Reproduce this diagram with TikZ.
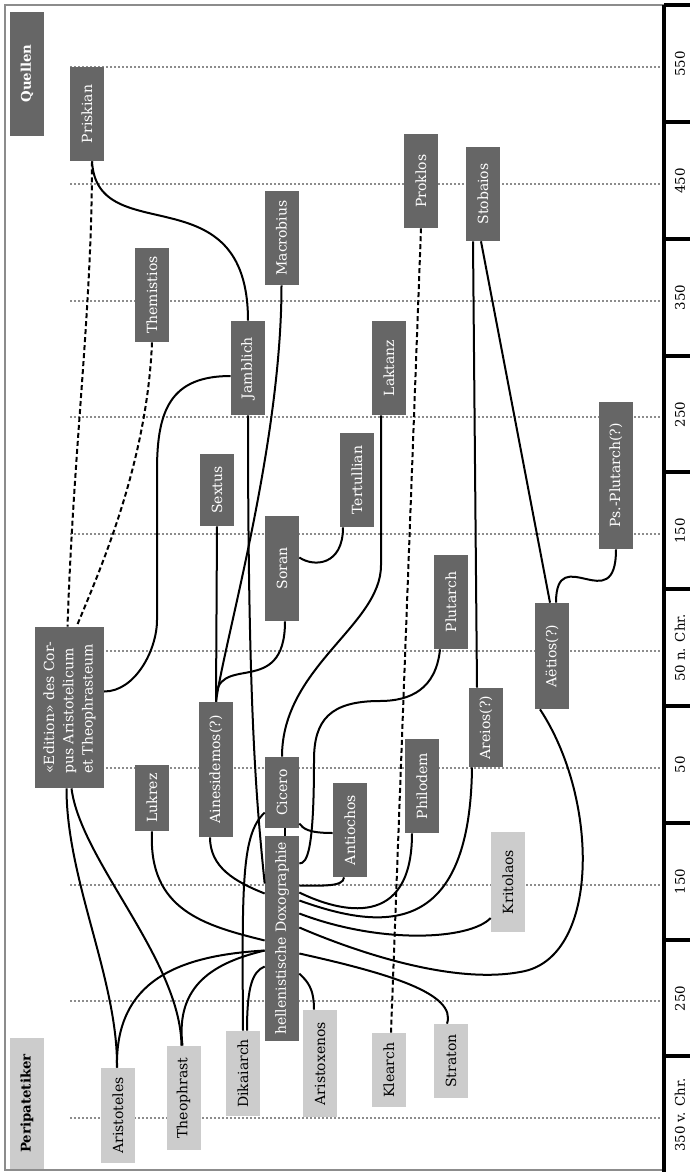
\documentclass[tikz,border=0pt]{standalone}
\usepackage{fontspec}
\setmainfont{DejaVu Serif}
\usepackage{tikz}
\usepackage{xcolor}
\usetikzlibrary{calc}

\definecolor{boxdark}{HTML}{666666}
\definecolor{boxlight}{HTML}{CCCCCC}
\definecolor{gridgray}{HTML}{8C8C8C}

\begin{document}
\begin{tikzpicture}[x=0.6pt,y=-0.6pt,
        quelle/.style={rotate=90,fill=boxdark,text=white,inner sep=0pt,minimum height=20.4pt,font=\fontsize{8.4}{11.5}\selectfont},
        peri/.style={quelle,fill=boxlight,text=black},
        bezug/.style={line width=1.2pt},
        unsicher/.style={line width=1.2pt,dash pattern=on 3pt off 1.8pt},
        raster/.style={gridgray,line width=1.2pt,dash pattern=on 1.4pt off 1pt},
        achse/.style={line width=2.4pt}]
            \useasboundingbox (0,0) rectangle (690,1172);

            \draw[gridgray,line width=1.2pt] (664,5) -- (5,5) -- (5,1170) -- (664,1170);
            \foreach \i in {0,...,9} \draw[raster] (70,{67+116.8*\i}) -- (663,{67+116.8*\i});

            \draw[achse] (664,5) -- (664,1172) (664,5) -- (690,5);
            \foreach \i in {0,...,8} \draw[achse] (664,{122+116.8*\i}) -- (690,{122+116.8*\i});
            \foreach \jahr [count=\i from 0] in {550,450,350,250,150,50 n. Chr.,50,150,250,350 v. Chr.}
                \node (jahr\i) at (680,{64+116.8*\i}) [rotate=90,font=\fontsize{8}{9.6}\selectfont] {\jahr};

            \node (quellen) at (27,73.5) [quelle,minimum width=74.4pt,font=\fontsize{8}{9.6}\selectfont\bfseries] {Quellen};
            \node (peripatetiker) at (27,1103.5) [peri,minimum width=78.6pt,font=\fontsize{8}{9.6}\selectfont\bfseries] {Peripatetiker};

            \node (priskian) at (87,114) [quelle,minimum width=56.4pt] {Priskian};
            \node (themistios) at (152,295) [quelle,minimum width=56.4pt] {Themistios};
            \node (macrobius) at (281.5,238) [quelle,minimum width=56.4pt] {Macrobius};
            \node (proklos) at (421,181) [quelle,minimum width=56.4pt] {Proklos};
            \node (stobaios) at (483,194) [quelle,minimum width=56.4pt] {Stobaios};
            \node (jamblich) at (248,368) [quelle,minimum width=56.4pt] {Jamblich};
            \node (laktanz) at (389,368) [quelle,minimum width=56.4pt] {Laktanz};
            \node (sextus) at (217,490) [quelle,minimum width=43.2pt] {Sextus};
            \node (tertullian) at (357,480) [quelle,minimum width=56.4pt] {Tertullian};
            \node (psplutarch) at (616,475.5) [quelle,minimum width=88.2pt] {Ps.-Plutarch(?)};
            \node (soran) at (282,568.5) [quelle,minimum width=63pt] {Soran};
            \node (plutarch) at (451,602) [quelle,minimum width=56.4pt] {Plutarch};
            \node (aetios) at (552,656) [quelle,minimum width=63.6pt] {Aëtios(?)};
            \node (edition) at (69.5,707.5) [quelle,minimum width=96.6pt,minimum height=41.2pt,align=left] {«Edition» des Cor-\\pus Aristotelicum\\et Theophrasteum};
            \node (ainesidemos) at (216,769.5) [quelle,minimum width=81pt] {Ainesidemos(?)};
            \node (lukrez) at (152,798) [quelle,minimum width=39.6pt] {Lukrez};
            \node (cicero) at (282,792.5) [quelle,minimum width=42.6pt] {Cicero};
            \node (antiochos) at (350,830) [quelle,minimum width=56.4pt] {Antiochos};
            \node (philodem) at (422,786) [quelle,minimum width=56.4pt] {Philodem};
            \node (areios) at (486,727.5) [quelle,minimum width=47.4pt] {Areios(?)};
            \node (hd) at (282,938.5) [quelle,minimum width=123pt] {hellenistische Doxographie};

            \node (kritolaos) at (508,882) [peri,minimum width=60pt] {Kritolaos};
            \node (aristoteles) at (118,1115.5) [peri,minimum width=57pt] {Aristoteles};
            \node (theophrast) at (183.5,1098) [peri,minimum width=62.4pt] {Theophrast};
            \node (dikaiarch) at (243,1073.5) [peri,minimum width=51pt] {Dikaiarch};
            \node (aristoxenos) at (320,1063.5) [peri,minimum width=64.2pt] {Aristoxenos};
            \node (klearch) at (389,1070) [peri,minimum width=44.4pt] {Klearch};
            \node (straton) at (451,1061) [peri,minimum width=44.4pt] {Straton};

            \draw[bezug] ($(priskian.west)+(5,0)$) .. controls +(5,90) and +(0,-150) .. (jamblich.east);
            \draw[unsicher] ($(priskian.west)+(5,0)$) .. controls +(0,150) and +(6,-180) .. ($(edition.east)+(-2,0)$);
            \draw[unsicher] (themistios.west) .. controls +(-5,120) and +(25,-60) .. ($(edition.east)+(7,0)$);
            \draw[bezug] (macrobius.west) .. controls +(0,160) and +(8,-60) .. (ainesidemos.east);
            \draw[bezug] ($(soran.west)+(3,0)$) .. controls +(0,80) and +(-2,-52) .. (ainesidemos.east);
            \draw[bezug] (sextus.west) -- (ainesidemos.east);
            \draw[bezug] ($(tertullian.west)+(-14,0)$) .. controls +(0,38) and +(15,10) .. ($(soran.south)+(0,-11)$);
            \draw[bezug] ($(laktanz.west)+(-8,0)$) -- ++(0,150) .. controls +(0,60) and +(0,-90) .. (cicero.east);
            \draw[bezug] ($(jamblich.north)+(0,8)$) .. controls +(-60,0) and +(0,-60) .. (157,470) -- (157,620) .. controls +(0,30) and +(31,0) .. ($(edition.south)+(0,-16)$);
            \draw[bezug] (jamblich.west) .. controls +(0,300) and +(-8,-80) .. ($(hd.north)+(0,-55)$);
            \draw[bezug] ($(stobaios.west)+(-10,0)$) -- ($(areios.east)+(-9,0)$) ($(stobaios.west)+(-2,0)$) -- ($(aetios.east)+(-2,0)$);
            \draw[bezug] (psplutarch.west) .. controls +(0,71) and +(0,-63) .. ($(aetios.east)+(4,0)$);
            \draw[bezug] ($(plutarch.west)+(-11,0)$) .. controls +(-4,40) and +(30,0) .. (380,701) .. controls +(-50,0) and +(0,-40) .. (314,760) .. controls +(0,90) and +(8,0) .. ($(hd.south)+(0,-75)$);
            \draw[bezug] ($(antiochos.north)+(0,3)$) .. controls +(-25,0) and +(4,5) .. ($(cicero.south)+(0,31)$);
            \draw[bezug] ($(antiochos.west)+(-6,0)$) .. controls +(0,10) and +(20,0) .. ($(hd.south)+(0,-53)$);
            \draw[bezug] ($(philodem.west)+(-10,0)$) .. controls +(0,97) and +(41,20) .. ($(hd.south)+(0,-46)$);
            \draw[bezug] ($(areios.west)+(-14,0)$) .. controls +(-2,173) and +(81,29) .. ($(hd.south)+(0,-38)$);
            \draw[bezug] ($(kritolaos.north)+(0,36)$) .. controls +(-21,22) and +(81,31) .. ($(hd.south)+(0,-25)$);
            \draw[bezug] ($(aetios.west)+(-12,0)$) .. controls +(60,91) and +(80,-12) .. (520,972) .. controls +(-70,13) and +(51,22) .. ($(hd.south)+(0,-11)$);
            \draw[bezug] ($(straton.east)+(-4,0)$) .. controls +(10,-30) and +(90,20) .. ($(hd.south)+(0,15)$);
            \draw[bezug] ($(aristoxenos.east)+(-6,0)$) .. controls +(0,-22) and +(8,8) .. ($(hd.south)+(0,35)$);
            \draw[unsicher] ($(klearch.east)+(2,0)$) -- (proklos.west);
            \draw[bezug] ($(cicero.west)+(3,0)$) -- ($(hd.east)+(3,0)$);
            \draw[bezug] (dikaiarch.east) .. controls +(-1,-150) and +(-23,22) .. ($(cicero.north)+(0,20)$);
            \draw[bezug] ($(dikaiarch.east)+(4,0)$) .. controls +(0,-45) and +(-12,5) .. ($(hd.north)+(0,28)$);
            \draw[bezug] ($(aristoteles.east)+(-1,0)$) .. controls +(-2,-88) and +(-85,5) .. ($(hd.north)+(0,12)$);
            \draw[bezug] ($(theophrast.east)+(-1,0)$) .. controls +(-7.5,-61) and +(-50,12) .. ($(hd.north)+(0,12)$);
            \draw[bezug] ($(aristoteles.east)+(-1,0)$) .. controls +(1,-88) and +(0,92) .. ($(edition.west)+(-3,0)$);
            \draw[bezug] ($(theophrast.east)+(-2,0)$) .. controls +(-1,-86) and +(9,72) .. ($(edition.west)+(2,0)$);
            \draw[bezug] (lukrez.west) .. controls +(-4,79) and +(-60,-15) .. ($(hd.north)+(0,2)$);
            \draw[bezug] ($(ainesidemos.west)+(-6,0)$) .. controls +(0,30) and +(-30,-12) .. ($(hd.north)+(0,-45)$);

        \end{tikzpicture}
\end{document}
